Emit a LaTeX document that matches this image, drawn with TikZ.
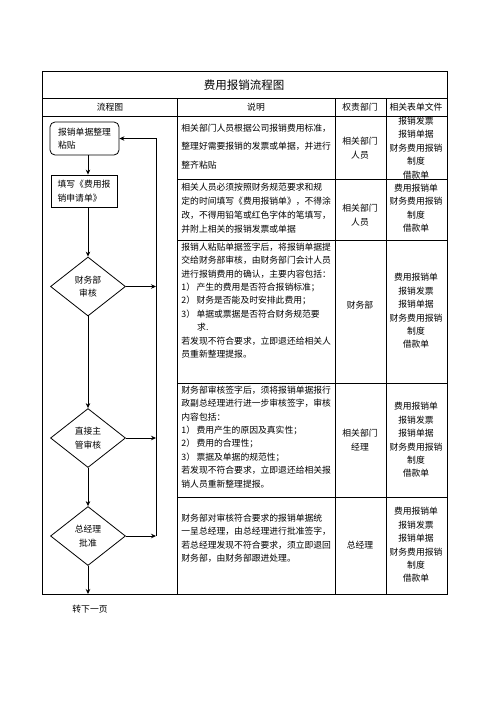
\documentclass[tikz,border=0pt]{standalone}
\usepackage{fontspec}
\setmainfont{Noto Sans CJK SC}
\usepackage{tikz}
\usetikzlibrary{arrows.meta, positioning, shapes.geometric}

\begin{document}
\begin{tikzpicture}[x=1pt, y=-1pt, line width=0.8pt,
  every node/.style={font=\fontsize{8.8}{13.4}\selectfont, inner sep=0pt},
  desc/.style={anchor=north west, align=left},
  cell/.style={align=center},
  proc/.style={draw, align=left},
  decide/.style={draw, diamond, aspect=1.27, minimum width=75pt, minimum height=59pt, align=center},
  arr/.style={-{Stealth[length=5pt, width=4.5pt]}}]
  \useasboundingbox (0,0) rectangle (496,702);

  % table frame
  \draw (42,71) rectangle (447,594);
  \draw (42,98) -- (447,98);
  \draw (42,116) -- (447,116);
  \draw (177,98) -- (177,594);
  \draw (335,98) -- (335,594);
  \draw (386,98) -- (386,594);
  \foreach \y in {179,240,383,497}
    \draw (177,\y) -- (447,\y);

  % title and header
  \node[font=\fontsize{11.5}{14}\selectfont] (title) at (244,85) {费用报销流程图};
  \node (hflow) at (110,107) {流程图};
  \node (hdesc) at (256,107) {说明};
  \node (hdept) at (360,107) {权责部门};
  \node (hform) at (416,107) {相关表单文件};

  % flow chart
  \node[proc, rounded corners=5pt, minimum width=69pt, minimum height=33pt] (paste) at (84.5,138.5) {报销单据整理\\粘贴};
  \node[proc, minimum width=66pt, minimum height=32pt] (fill) at (84,191) {填写《费用报\\销申请单》};
  \node[decide] (fin) at (88,286.5) {财务部\\审核};
  \node[decide] (boss) at (88,438) {直接主\\管审核};
  \node[decide] (gm) at (88,536) {总经理\\批准};
  \coordinate (back) at (156,536);
  \coordinate (next) at (88,594);
  \node (nextpg) at (90,609) {转下一页};

  \draw[arr] (paste.south -| fin) -- (fill.north -| fin);
  \draw[arr] (fill.south -| fin) -- (fin.north);
  \draw[arr] (fin.south) -- (boss.north);
  \draw[arr] (boss.south) -- (gm.north);
  \draw[arr] (gm.south) -- (next);
  \draw[arr] (fin.east) -- (fin.east -| back);
  \draw[arr] (boss.east) -- (boss.east -| back);
  \draw[arr] (gm.east) -- (back);
  \draw[arr] (back) |- (paste.east);

  % descriptions
  \node[desc, font=\fontsize{8.8}{18.5}\selectfont] (txta) at (181,123.5) {相关部门人员根据公司报销费用标准，\\整理好需要报销的发票或单据，并进行\\整齐粘贴};
  \node[desc, font=\fontsize{8.8}{14}\selectfont] (txtb) at (181,182.5) {相关人员必须按照财务规范要求和规\\定的时间填写《费用报销单》，不得涂\\改，不得用铅笔或红色字体的笔填写，\\并附上相关的报销发票或单据};
  \node[desc] (txtc) at (181,242.5) {报销人粘贴单据签字后，将报销单据提\\交给财务部审核，由财务部门会计人员\\进行报销费用的确认，主要内容包括：\\1）\,产生的费用是否符合报销标准；\\2）\,财务是否能及时安排此费用；\\3）\,单据或票据是否符合财务规范要\\\hspace*{1.8em}求.\\若发现不符合要求，立即退还给相关人\\员重新整理提报。};
  \node[desc] (txtd) at (181,385.5) {财务部审核签字后，须将报销单据报行\\政副总经理进行进一步审核签字，审核\\内容包括：\\1）\,费用产生的原因及真实性；\\2）\,费用的合理性；\\3）\,票据及单据的规范性；\\若发现不符合要求，立即退还给相关报\\销人员重新整理提报。};
  \node[desc] (txte) at (181,513.5) {财务部对审核符合要求的报销单据统\\一呈总经理，由总经理进行批准签字，\\若总经理发现不符合要求，须立即退回\\财务部，由财务部跟进处理。};

  % departments
  \node[cell] (depa) at (360,148) {相关部门\\人员};
  \node[cell] (depb) at (360,215) {相关部门\\人员};
  \node[cell] (depc) at (360,305) {财务部};
  \node[cell] (depd) at (360,440) {相关部门\\经理};
  \node[cell] (depe) at (360,545) {总经理};

  % forms
  \node[cell] (frma) at (416,148) {报销发票\\报销单据\\财务费用报销\\制度\\借款单};
  \node[cell] (frmb) at (416,208) {费用报销单\\财务费用报销\\制度\\借款单};
  \node[cell] (frmc) at (416,311) {费用报销单\\报销发票\\报销单据\\财务费用报销\\制度\\借款单};
  \node[cell] (frmd) at (416,440) {费用报销单\\报销发票\\报销单据\\财务费用报销\\制度\\借款单};
  \node[cell] (frme) at (416,545) {费用报销单\\报销发票\\报销单据\\财务费用报销\\制度\\借款单};
\end{tikzpicture}
\end{document}
